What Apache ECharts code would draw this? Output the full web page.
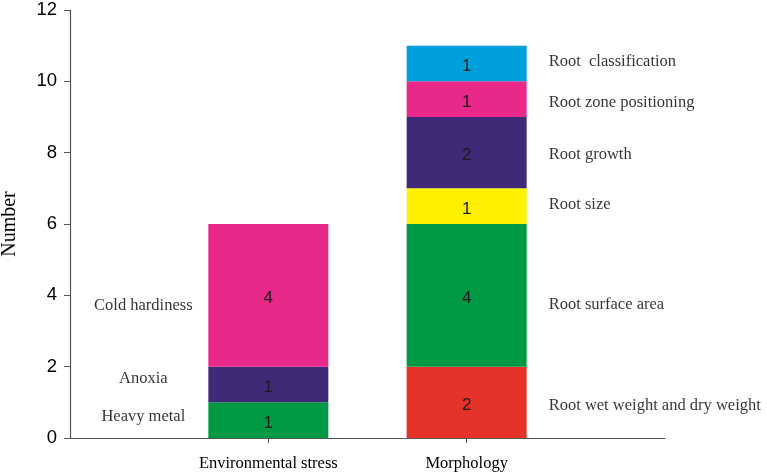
<!DOCTYPE html>
<html><head><meta charset="utf-8">
<script src="https://cdn.jsdelivr.net/npm/echarts@6/dist/echarts.min.js"></script>
<style>html,body{margin:0;padding:0;background:#fff}#c{width:767px;height:475px}</style>
</head><body><div id="c"></div>
<script>
const categories = ['Environmental stress', 'Morphology'];
const envNames = ['Heavy metal', 'Anoxia', 'Cold hardiness'];
const envValues = [1, 1, 4];
const envLabelY = [0.6, 1.65, 3.7];
const morphNames = ['Root wet weight and dry weight', 'Root surface area', 'Root size', 'Root growth', 'Root zone positioning', 'Root  classification'];
const morphValues = [2, 4, 1, 2, 1, 1];
const morphLabelY = [0.9, 3.75, 6.55, 7.95, 9.4, 10.55];
const yMin = 0, yMax = 12, yStep = 2;

const envColors = ['#009a44', '#3f2a78', '#e8298a'];
const morphColors = ['#e6332a', '#009a44', '#fff100', '#3f2a78', '#e8298a', '#00a0dc'];

const serif = 'Liberation Serif, Times New Roman, serif';
const sans = 'Liberation Sans, Arial, sans-serif';

const axisCats = [''].concat(categories, ['']);
const series = [];
function addBars(names, values, colors, catIdx) {
  names.forEach((n, i) => {
    const d = axisCats.map(() => '-');
    d[catIdx] = values[i];
    series.push({
      type: 'bar', name: n, stack: 'total', barWidth: 120,
      data: d,
      itemStyle: { color: colors[i] },
      label: { show: true, position: 'inside', offset: [0, 3], color: '#1a1a1a', fontFamily: sans, fontSize: 17 }
    });
  });
}
addBars(envNames, envValues, envColors, 1);
addBars(morphNames, morphValues, morphColors, 2);

series.push({
  type: 'scatter', symbolSize: 0, silent: true,
  data: envNames.map((n, i) => [1, envLabelY[i], n]),
  label: { show: true, position: 'inside', align: 'center', offset: [-125, 0],
    formatter: p => p.data[2], color: '#000', fontFamily: serif, fontSize: 16.5 }
});
series.push({
  type: 'scatter', symbolSize: 0, silent: true,
  data: morphNames.map((n, i) => [2, morphLabelY[i], n]),
  label: { show: true, position: 'inside', align: 'left', offset: [82, 0],
    formatter: p => p.data[2], color: '#000', fontFamily: serif, fontSize: 16.5 }
});

const chart = echarts.init(document.getElementById('c'));
chart.setOption({
  animation: false,
  grid: { left: 70, right: 102, top: 10, bottom: 37, containLabel: false, outerBoundsMode: 'none' },
  xAxis: {
    type: 'category', data: axisCats, boundaryGap: false,
    axisLine: { lineStyle: { color: '#555', width: 1.2 } },
    axisTick: { length: 5, interval: (i) => i === 1 || i === 2, lineStyle: { color: '#555' } },
    axisLabel: { margin: 17, color: '#000', fontFamily: serif, fontSize: 16.5, interval: 0 },
    splitLine: { show: false }
  },
  yAxis: {
    type: 'value', min: yMin, max: yMax, interval: yStep,
    name: 'Number', nameLocation: 'middle', nameGap: 50,
    nameTextStyle: { color: '#000', fontFamily: serif, fontSize: 20 },
    axisLine: { show: true, lineStyle: { color: '#555', width: 1.2 } },
    axisTick: { show: true, length: 6, lineStyle: { color: '#555' } },
    axisLabel: { margin: 13, color: '#000', fontFamily: sans, fontSize: 18.5 },
    splitLine: { show: false }
  },
  series: series
});
</script></body></html>
